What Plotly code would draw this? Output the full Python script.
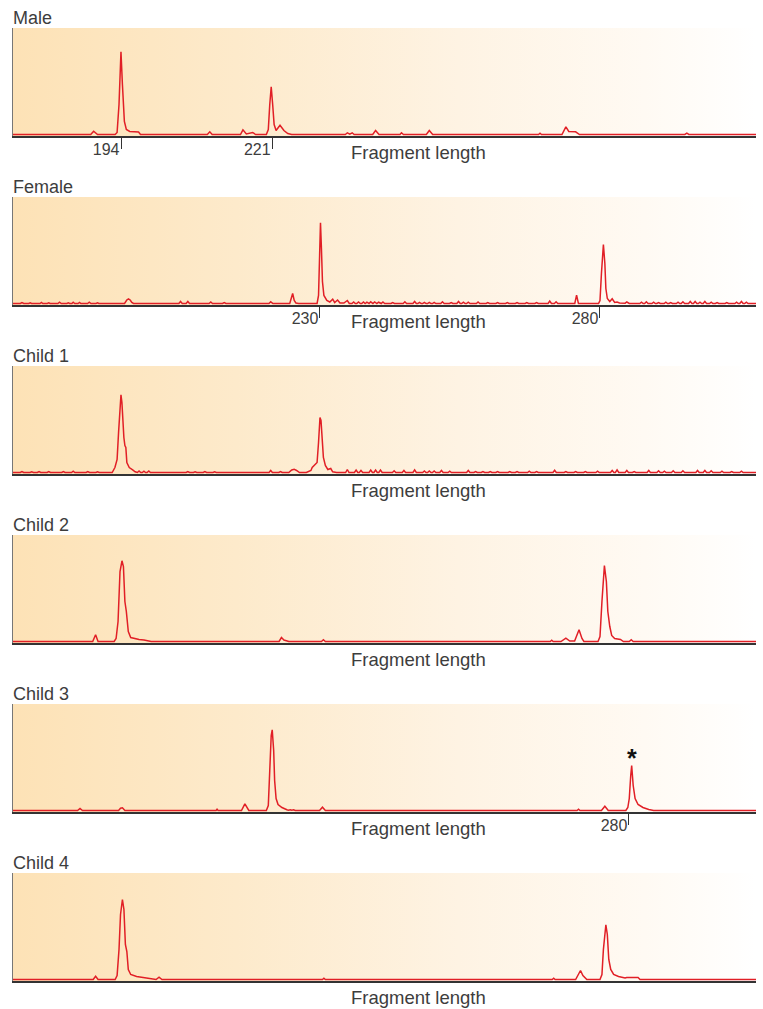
import plotly.graph_objects as go

# ---------------- data (fragment length in bp, signal in relative units) ----------------
panel_names = ["Male", "Female", "Child 1", "Child 2", "Child 3", "Child 4"]
x_ranges = [(174.7, 307.38), (175.18, 307.86), (175.0, 307.68),
            (175.0, 307.68), (170.0, 302.68), (175.0, 307.68)]
tick_values = [[194, 221], [230, 280], [], [], [280], []]
tick_labels = [["194", "221"], ["230", "280"], [], [], ["280"], []]
star_peak = (280.48, 45)  # Child 3 starred peak

male = [
    (174.7, 0), (188.58, 0), (189.10, 3.3), (189.80, 0),
    (192.94, 0), (193.29, 2), (193.63, 30), (193.98, 82.7), (194.24, 50), (194.42, 28),
    (194.59, 13), (194.94, 5), (195.55, 3), (197.12, 2.5), (197.47, 0),
    (209.40, 0), (209.84, 2.7), (210.27, 0),
    (215.32, 0), (215.76, 4.7), (216.37, 0.5), (217.50, 2), (218.02, 0),
    (219.94, 0), (220.29, 5), (220.55, 30), (220.81, 47.7), (221.07, 30), (221.33, 10),
    (221.68, 4), (222.38, 9.3), (223.08, 4), (223.77, 1), (224.47, 0),
    (234.05, 0), (234.40, 1.7), (234.84, 0.3), (235.27, 1.7), (235.62, 0),
    (238.93, 0), (239.45, 4), (240.06, 0),
    (243.81, 0), (244.07, 1.7), (244.42, 0),
    (248.51, 0), (249.04, 4), (249.64, 0),
    (268.55, 0), (268.81, 1.3), (269.07, 0),
    (272.73, 0), (273.43, 7.7), (273.95, 3), (275.17, 2.7), (275.86, 0),
    (294.68, 0), (295.03, 1.3), (295.38, 0),
    (307.38, 0),
]

female = [
    (175.18, 0),
    (176.5, 0), (176.78, 1.0), (177.1, 0), (178.0, 0), (178.26, 0.7), (178.5, 0),
    (180.0, 0), (180.26, 1.0), (180.5, 0), (181.3, 0), (181.57, 0.7), (181.8, 0),
    (183.2, 0), (183.49, 1.3), (183.8, 0), (184.8, 0), (185.06, 0.7), (185.3, 0),
    (185.7, 0), (185.93, 1.3), (186.2, 0), (186.8, 0), (187.06, 1.0), (187.3, 0),
    (188.5, 0), (188.8, 1.3), (189.1, 0), (190.0, 0), (190.28, 0.7), (190.5, 0),
    (191.3, 0), (191.59, 0.7), (191.8, 0),
    (195.1, 0), (195.5, 3.5), (195.8, 4.7), (196.1, 3.5), (196.4, 1), (196.7, 0),
    (198.7, 0), (199.0, 0.7), (199.3, 0), (200.9, 0), (201.2, 0.7), (201.5, 0),
    (204.8, 0), (205.1, 2.0), (205.4, 0), (206.1, 0), (206.4, 2.0), (206.7, 0),
    (208.0, 0), (208.3, 0.7), (208.6, 0), (210.2, 0), (210.5, 1.5), (210.8, 0),
    (212.6, 0), (212.9, 1.0), (213.2, 0), (213.6, 0), (213.9, 0.7), (214.2, 0),
    (215.3, 0), (215.5, 0.7), (215.8, 0), (217.9, 0), (218.2, 0.7), (218.5, 0),
    (220.9, 0), (221.2, 1.7), (221.6, 0),
    (224.6, 0), (224.85, 4), (225.12, 10), (225.4, 3), (225.7, 0.5), (226.2, 0),
    (229.48, 0), (229.74, 8), (229.92, 40), (230.09, 80.7), (230.26, 55), (230.44, 22),
    (230.70, 8), (231.22, 3), (231.75, 1.5), (232.27, 4.3), (232.62, 1), (233.14, 3.5),
    (233.57, 0.5), (234.27, 0.5), (234.88, 3), (235.23, 0),
    (235.71, 0), (236.01, 1.5), (236.3, 0), (236.58, 0), (236.88, 1.5), (237.2, 0),
    (237.46, 0), (237.76, 1.5), (238.05, 0), (238.1, 0), (238.37, 1.3), (238.7, 0),
    (238.76, 0), (239.06, 1.7), (239.4, 0), (239.46, 0), (239.76, 1.5), (240.1, 0),
    (240.16, 0), (240.46, 1.3), (240.8, 0), (240.94, 0), (241.24, 1.5), (241.55, 0),
    (242.68, 0), (242.98, 1.0), (243.3, 0), (244.86, 0), (245.16, 1.7), (245.46, 0),
    (246.6, 0), (246.9, 2.0), (247.2, 0), (247.47, 0), (247.77, 1.2), (248.07, 0),
    (248.34, 0), (248.64, 1.2), (248.94, 0), (249.22, 0), (249.52, 1.2), (249.82, 0),
    (250.09, 0), (250.39, 1.2), (250.69, 0), (251.57, 0), (251.87, 1.7), (252.17, 0),
    (253.13, 0), (253.43, 1.0), (253.73, 0), (254.44, 0), (254.74, 2.0), (255.04, 0),
    (255.31, 0), (255.61, 1.3), (255.91, 0), (256.18, 0), (256.48, 1.3), (256.78, 0),
    (257.93, 0), (258.23, 1.5), (258.53, 0), (259.67, 0), (259.97, 1.0), (260.27, 0),
    (261.41, 0), (261.71, 1.0), (262.01, 0), (263.15, 0), (263.45, 1.0), (263.75, 0),
    (264.89, 0), (265.19, 1.0), (265.49, 0), (266.64, 0), (266.94, 1.0), (267.24, 0),
    (268.38, 0), (268.68, 1.0), (268.98, 0), (270.73, 0), (271.03, 2.5), (271.33, 0),
    (271.86, 0), (272.16, 1.7), (272.46, 0), (273.61, 0), (273.91, 0.7), (274.21, 0),
    (275.5, 0), (275.82, 8.3), (276.15, 0),
    (279.74, 0), (280.0, 3), (280.26, 30), (280.61, 59), (280.87, 40), (281.05, 15),
    (281.31, 5), (281.75, 2), (282.18, 4.7), (282.62, 1), (283.05, 1.5), (283.49, 0.5),
    (284.5, 0.3), (284.79, 1.5), (285.23, 0),
    (287.11, 0), (287.41, 1.3), (287.71, 0), (287.98, 0), (288.28, 1.7), (288.58, 0),
    (289.28, 0), (289.58, 1.3), (289.88, 0), (290.16, 0), (290.46, 1.0), (290.76, 0),
    (291.46, 0), (291.76, 1.3), (292.06, 0), (292.33, 0), (292.63, 1.0), (292.93, 0),
    (293.64, 0), (293.94, 1.3), (294.24, 0), (294.51, 0), (294.81, 1.7), (295.11, 0),
    (295.82, 0), (296.12, 2.0), (296.42, 0), (296.69, 0), (296.99, 2.0), (297.29, 0),
    (297.56, 0), (297.86, 1.3), (298.16, 0), (298.43, 0), (298.73, 2.0), (299.03, 0),
    (299.56, 0), (299.86, 1.3), (300.16, 0), (300.61, 0), (300.91, 1.0), (301.21, 0),
    (302.35, 0), (302.65, 1.0), (302.95, 0), (304.09, 0), (304.39, 1.3), (304.69, 0),
    (304.96, 0), (305.26, 2.0), (305.56, 0), (305.84, 0), (306.14, 1.3), (306.44, 0),
    (307.86, 0),
]

child1 = [
    (175.0, 0),
    (176.3, 0), (176.6, 1.0), (176.9, 0), (178.04, 0), (178.34, 0.7), (178.64, 0),
    (179.35, 0), (179.65, 1.0), (179.95, 0), (181.09, 0), (181.39, 1.0), (181.69, 0),
    (182.4, 0), (182.7, 0.7), (183.0, 0), (183.7, 0), (184.0, 1.0), (184.3, 0),
    (185.45, 0), (185.75, 1.3), (186.05, 0), (186.75, 0), (187.05, 0.7), (187.35, 0),
    (188.06, 0), (188.36, 1.0), (188.66, 0), (189.8, 0), (190.1, 0.7), (190.4, 0),
    (191.11, 0), (191.41, 0.7), (191.71, 0),
    (192.71, 0), (193.2, 5), (193.59, 13), (193.85, 40), (194.05, 65), (194.28, 77.7),
    (194.45, 70), (194.63, 50), (194.8, 35), (194.98, 27), (195.15, 25), (195.33, 10),
    (195.76, 5), (196.37, 2.7), (196.81, 0.7),
    (197.21, 0), (197.51, 1.5), (197.81, 0), (198.08, 0), (198.38, 1.3), (198.68, 0),
    (198.95, 0), (199.25, 1.5), (199.55, 0), (201.13, 0), (201.43, 0.7), (201.73, 0),
    (203.74, 0), (204.04, 0.7), (204.34, 0), (205.92, 0), (206.22, 1.0), (206.52, 0),
    (207.22, 0), (207.52, 0.7), (207.82, 0), (208.97, 0), (209.27, 1.0), (209.57, 0),
    (210.71, 0), (211.01, 0.7), (211.31, 0), (217.68, 0), (217.98, 0.7), (218.28, 0),
    (220.72, 0), (221.02, 2.0), (221.32, 0), (222.47, 0), (222.77, 1.0), (223.07, 0),
    (224.25, 0), (224.77, 2.5), (225.21, 3.3), (225.64, 2), (226.16, 0),
    (227.38, 0), (228.2, 2), (228.43, 5), (228.86, 8), (229.30, 10), (229.56, 30), (229.82, 55),
    (230.0, 52), (230.17, 40), (230.43, 15), (230.78, 7), (231.22, 3), (231.74, 4),
    (232.09, 0.7), (232.78, 0),
    (234.4, 0), (234.70, 3.0), (235.0, 0), (235.97, 0), (236.27, 2.5), (236.57, 0),
    (236.84, 0), (237.14, 2.0), (237.44, 0), (238.58, 0), (238.88, 2.5), (239.18, 0),
    (239.45, 0), (239.75, 2.5), (240.05, 0), (240.32, 0), (240.62, 2.5), (240.92, 0),
    (242.76, 0), (243.06, 1.7), (243.36, 0), (244.51, 0), (244.81, 2.0), (245.11, 0),
    (246.42, 0), (246.72, 2.7), (247.02, 0), (248.16, 0), (248.46, 1.5), (248.76, 0),
    (249.04, 0), (249.34, 1.5), (249.64, 0), (249.91, 0), (250.21, 1.5), (250.51, 0),
    (251.21, 0), (251.51, 2.0), (251.81, 0), (252.69, 0), (252.99, 1.3), (253.29, 0),
    (256.0, 0), (256.30, 2.0), (256.6, 0), (257.31, 0), (257.61, 1.0), (257.91, 0),
    (258.62, 0), (258.92, 1.0), (259.22, 0), (259.92, 0), (260.22, 1.0), (260.52, 0),
    (261.23, 0), (261.53, 1.0), (261.83, 0), (263.41, 0), (263.71, 1.0), (264.01, 0),
    (264.71, 0), (265.01, 1.0), (265.31, 0), (266.89, 0), (267.19, 1.3), (267.49, 0),
    (268.2, 0), (268.50, 1.0), (268.8, 0), (271.42, 0), (271.72, 2.3), (272.02, 0),
    (273.43, 0), (273.73, 1.0), (274.03, 0), (275.17, 0), (275.47, 1.0), (275.77, 0),
    (276.91, 0), (277.21, 1.0), (277.51, 0), (279.09, 0), (279.39, 1.3), (279.69, 0),
    (281.7, 0), (282.0, 2.0), (282.3, 0), (282.57, 0), (282.87, 2.7), (283.17, 0),
    (284.31, 0), (284.61, 2.0), (284.91, 0), (285.62, 0), (285.92, 1.0), (286.22, 0),
    (288.23, 0), (288.53, 2.0), (288.83, 0), (289.98, 0), (290.28, 1.7), (290.58, 0),
    (291.02, 0), (291.32, 1.3), (291.62, 0), (292.59, 0), (292.89, 1.7), (293.19, 0),
    (294.33, 0), (294.63, 1.7), (294.93, 0), (296.94, 0), (297.24, 2.0), (297.54, 0),
    (298.25, 0), (298.55, 2.0), (298.85, 0), (299.38, 0), (299.68, 1.7), (299.98, 0),
    (301.3, 0), (301.60, 1.3), (301.9, 0), (303.04, 0), (303.34, 1.0), (303.64, 0),
    (304.78, 0), (305.08, 1.3), (305.38, 0),
    (307.68, 0),
]

child2 = [
    (175.0, 0),
    (189.23, 0), (189.75, 6.7), (190.19, 0),
    (193.06, 0), (193.41, 3), (193.76, 20), (194.11, 70), (194.46, 80.7), (194.72, 75),
    (194.98, 40), (195.24, 30), (195.59, 10), (196.02, 4), (197.51, 2), (198.38, 1.5), (199.68, 0),
    (222.51, 0), (222.94, 4), (223.38, 1.5), (224.25, 0),
    (230.08, 0), (230.43, 1.7), (230.78, 0),
    (270.94, 0), (271.20, 1.3), (271.46, 0),
    (272.85, 0), (273.73, 3.3), (274.42, 0.5), (275.29, 0.5), (276.08, 11.7), (276.60, 3), (276.95, 0),
    (279.47, 0), (279.82, 5), (280.17, 40), (280.61, 76), (280.96, 60), (281.22, 30),
    (281.57, 15), (281.91, 6), (282.44, 3), (283.48, 2), (284.0, 0),
    (285.05, 0), (285.40, 1.7), (285.75, 0),
    (307.68, 0),
]

child3 = [
    (170.0, 0),
    (181.53, 0), (181.97, 2), (182.40, 0),
    (188.85, 0), (189.20, 2.3), (189.54, 2.7), (189.98, 0),
    (206.27, 0), (206.44, 1.3), (206.62, 0),
    (210.80, 0), (211.41, 6.7), (212.11, 0),
    (215.24, 0), (215.59, 5), (215.85, 40), (216.11, 75), (216.29, 80.7), (216.55, 60),
    (216.72, 30), (216.98, 12), (217.33, 6), (218.03, 3), (218.90, 0.7), (219.2, 0.3),
    (219.5, 0.7), (219.8, 0.3), (220.1, 0.7), (220.4, 0),
    (224.74, 0), (225.26, 3.3), (225.78, 0),
    (230.92, 0), (231.27, 0.7), (231.62, 0),
    (270.73, 0), (270.99, 1.3), (271.25, 0),
    (275.08, 0), (275.69, 4.3), (276.30, 0),
    (279.44, 0), (279.79, 3), (280.05, 12), (280.31, 35), (280.48, 45), (280.75, 25),
    (281.09, 12), (281.62, 6), (282.49, 3), (283.53, 1), (284.40, 0),
    (302.68, 0),
]

child4 = [
    (175.0, 0),
    (189.32, 0), (189.75, 3.3), (190.19, 0),
    (193.24, 0), (193.59, 4), (193.93, 30), (194.20, 65), (194.54, 80), (194.81, 70),
    (195.07, 35), (195.33, 28), (195.59, 10), (196.02, 5), (197.07, 3), (198.81, 1.5), (199.68, 0.5),
    (200.55, 0), (201.08, 2.3), (201.60, 0),
    (230.26, 0), (230.52, 1.3), (230.78, 0),
    (271.29, 0), (271.55, 1.3), (271.81, 0),
    (275.47, 0), (275.90, 4), (276.34, 9), (276.77, 4), (277.21, 2), (277.47, 0),
    (279.82, 0), (280.17, 5), (280.43, 30), (280.87, 54.7), (281.13, 45), (281.39, 20),
    (281.74, 10), (282.26, 5), (283.13, 3), (284.0, 2), (284.3, 1.5), (284.6, 2),
    (285.22, 2), (286.62, 2), (286.97, 0),
    (307.68, 0),
]

traces = [male, female, child1, child2, child3, child4]
y_range = (-1.5, 106.5)

# ---------------- styling ----------------
W, H = 763, 1009
LEFT, RIGHT = 13, 756
TOP0, BOTTOM0, STEP = 28, 136, 169
RED = "#e11f26"
TEXT = "#3d3d3d"
FONT = "Liberation Sans"
grad = [[0.0, "#fde2b6"], [0.3, "#fdeacb"], [0.6, "#fef3e3"], [0.85, "#fffaf3"], [1.0, "#ffffff"]]

fig = go.Figure()
annotations = []
for i, (name, data) in enumerate(zip(panel_names, traces)):
    sfx = "" if i == 0 else str(i + 1)
    xa, ya = "x" + sfx, "y" + sfx
    lo, hi = x_ranges[i]
    fig.add_trace(go.Scatter(
        x=[lo, hi, hi, lo, lo], y=[y_range[0], y_range[0], y_range[1], y_range[1], y_range[0]],
        mode="lines", fill="toself", line=dict(width=0),
        fillgradient=dict(type="horizontal", colorscale=grad),
        hoverinfo="skip", showlegend=False, xaxis=xa, yaxis=ya))
    xs = [p[0] for p in data]
    ys = [p[1] for p in data]
    fig.add_trace(go.Scatter(x=xs, y=ys, mode="lines", line=dict(color=RED, width=1.5),
                             showlegend=False, hoverinfo="skip", xaxis=xa, yaxis=ya))

    top = TOP0 + STEP * i
    bot = BOTTOM0 + STEP * i
    has_ticks = len(tick_values[i]) > 0
    fig.layout["xaxis" + sfx] = dict(
        domain=[LEFT / W, RIGHT / W], range=[lo, hi], anchor=ya,
        showline=True, linecolor="#333333", linewidth=1.6, mirror=False,
        showgrid=False, zeroline=False,
        ticks="outside" if has_ticks else "", ticklen=11, tickwidth=1, tickcolor="#333333",
        tickvals=tick_values[i], ticktext=tick_labels[i], showticklabels=has_ticks,
        tickfont=dict(family=FONT, size=16, color=TEXT),
        ticklabelshift=-15, ticklabelstandoff=-13,
        fixedrange=True)
    fig.layout["yaxis" + sfx] = dict(
        domain=[1 - bot / H, 1 - top / H], range=list(y_range), anchor=xa,
        showline=True, linecolor="#777777", linewidth=1,
        showgrid=False, zeroline=False, showticklabels=False, ticks="", fixedrange=True)

    annotations.append(dict(text=name, xref="paper", yref="paper", x=(LEFT - 2) / W,
                            y=1 - (18 + STEP * i) / H, xanchor="left", yanchor="middle",
                            showarrow=False, font=dict(family=FONT, size=18, color=TEXT)))
    annotations.append(dict(text="Fragment length", xref="paper", yref="paper", x=418 / W,
                            y=1 - (152.5 + STEP * i) / H, xanchor="center", yanchor="middle",
                            showarrow=False, font=dict(family=FONT, size=18.5, color=TEXT)))

annotations.append(dict(text="<b>*</b>", xref="x5", yref="y5", x=star_peak[0], y=star_peak[1],
                        xanchor="center", yanchor="bottom", yshift=-8, showarrow=False,
                        font=dict(family=FONT, size=25, color="#111111")))

fig.update_layout(width=W, height=H, margin=dict(l=0, r=0, t=0, b=0),
                  paper_bgcolor="white", plot_bgcolor="rgba(0,0,0,0)",
                  annotations=annotations)
fig.write_html("out.html")
